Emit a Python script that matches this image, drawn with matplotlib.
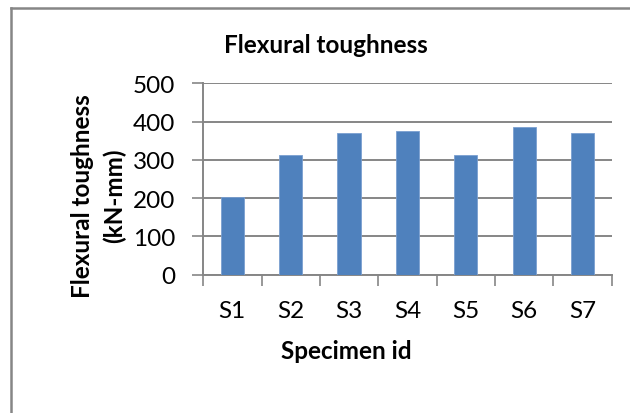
import matplotlib.pyplot as plt
from matplotlib.lines import Line2D

# Flexural toughness per specimen (kN-mm)
specimens = ["S1", "S2", "S3", "S4", "S5", "S6", "S7"]
toughness = [203, 312, 371, 375, 313, 386, 369]
y_ticks = [0, 100, 200, 300, 400, 500]

plt.rcParams["font.family"] = ["Lato", "DejaVu Sans"]
grey = "#868686"
blue = "#4F81BD"
fs = 17.5

fig = plt.figure(figsize=(6.3, 4.14), dpi=100)
ax = fig.add_axes([0.3225, 0.334, 0.6485, 0.4625])

x = range(len(specimens))
ax.bar(x, toughness, width=0.4, color=blue, edgecolor="#7A9FD0",
       linewidth=0.6, zorder=3)

ax.set_xlim(-0.5, len(specimens) - 0.5)
ax.set_ylim(0, 500)
ax.set_yticks(y_ticks)
ax.set_xticks(list(x))
ax.set_xticklabels(specimens)
# category boundaries carry the tick marks
ax.set_xticks([i - 0.5 for i in range(len(specimens) + 1)], minor=True)
ax.tick_params(axis="x", which="major", length=0, pad=18, labelsize=fs)
ax.tick_params(axis="x", which="minor", length=8, width=1.2, color=grey,
               direction="out")
ax.tick_params(axis="y", length=8, width=1.2, color=grey, pad=12,
               labelsize=fs)

ax.grid(axis="y", color=grey, linewidth=1.4, zorder=0)
for side in ["top", "right"]:
    ax.spines[side].set_visible(False)
for side in ["left", "bottom"]:
    ax.spines[side].set_color(grey)
    ax.spines[side].set_linewidth(1.4)

fig.text(0.549, 0.150, "Specimen id", fontsize=fs, fontweight="bold",
         ha="center", va="center")
fig.text(0.518, 0.889, "Flexural toughness", fontsize=fs, fontweight="bold",
         ha="center", va="center")
fig.text(0.131, 0.527, "Flexural toughness", fontsize=fs, fontweight="bold",
         rotation=90, ha="center", va="center")
fig.text(0.181, 0.527, "(kN-mm)", fontsize=fs, fontweight="bold",
         rotation=90, ha="center", va="center")

# chart frame (top and left edges visible)
fig.add_artist(Line2D([10.5 / 630, 1.0], [1 - 8.7 / 414] * 2,
                      transform=fig.transFigure, color=grey, linewidth=1.8))
fig.add_artist(Line2D([10.5 / 630] * 2, [0.0, 1 - 8.7 / 414],
                      transform=fig.transFigure, color=grey, linewidth=1.8))

fig.savefig("out.png", dpi=100)
